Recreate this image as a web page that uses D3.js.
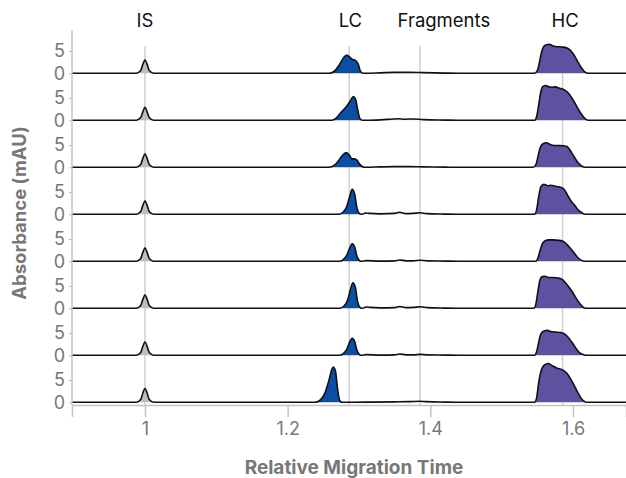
<!DOCTYPE html>
<html>
<head>
<meta charset="utf-8">
<script src="https://cdn.jsdelivr.net/npm/d3@7"></script>
<style>
  body { margin: 0; background: #fff; }
  svg { display: block; font-family: Inter, "Noto Sans", sans-serif; }
</style>
</head>
<body>
<svg id="chart" width="626" height="478"></svg>
<script>
// Peak names and where their guide lines sit (relative migration time)
const peakLabels = ['IS', 'LC', 'Fragments', 'HC'];
const labelPos = [1.0, 1.288, 1.419, 1.589];
const refLines = [1.0, 1.2864, 1.3854, 1.5854];
const xTicks = [1, 1.2, 1.4, 1.6];
const yTicks = [0, 5];
const xDomain = [0.8977, 1.6743];

// Traces, one entry per run (top to bottom), points are [time, mAU]
const isTrace = [
  [[0.988,0],[0.994,0.6],[0.997,2.0],[1.0,3.0],[1.003,2.0],[1.006,0.6],[1.012,0]],
  [[0.988,0],[0.994,0.6],[0.997,1.9],[1.0,2.9],[1.003,1.9],[1.006,0.6],[1.012,0]],
  [[0.988,0],[0.994,0.6],[0.997,2.0],[1.0,3.0],[1.003,2.0],[1.006,0.6],[1.012,0]],
  [[0.988,0],[0.994,0.6],[0.997,2.0],[1.0,3.0],[1.003,2.0],[1.006,0.6],[1.012,0]],
  [[0.988,0],[0.994,0.6],[0.997,2.0],[1.0,3.0],[1.003,2.0],[1.006,0.6],[1.012,0]],
  [[0.988,0],[0.994,0.6],[0.997,2.0],[1.0,3.0],[1.003,2.0],[1.006,0.6],[1.012,0]],
  [[0.988,0],[0.994,0.6],[0.997,2.0],[1.0,3.0],[1.003,2.0],[1.006,0.6],[1.012,0]],
  [[0.988,0],[0.994,0.6],[0.997,2.1],[1.0,3.1],[1.003,2.1],[1.006,0.6],[1.012,0]]
];

const lcTrace = [
  [[1.258,0],[1.265,0.4],[1.272,1.8],[1.279,3.6],[1.283,4.1],[1.287,3.6],[1.291,3.1],[1.295,2.9],[1.299,2.0],[1.302,0.5],[1.306,0]],
  [[1.262,0],[1.268,0.5],[1.275,1.8],[1.283,3.2],[1.288,4.4],[1.292,5.3],[1.295,4.8],[1.298,2.5],[1.301,0.5],[1.305,0]],
  [[1.257,0],[1.264,0.3],[1.270,1.2],[1.276,2.5],[1.2825,3.3],[1.287,2.6],[1.290,1.9],[1.294,1.9],[1.297,1.6],[1.301,0.7],[1.305,0.1],[1.308,0]],
  [[1.272,0],[1.278,0.5],[1.283,1.8],[1.287,4.0],[1.2905,5.6],[1.294,4.5],[1.297,1.5],[1.300,0.3],[1.303,0]],
  [[1.272,0],[1.278,0.4],[1.283,1.4],[1.287,3.0],[1.2905,3.9],[1.294,3.2],[1.297,1.2],[1.300,0.3],[1.303,0]],
  [[1.273,0],[1.279,0.5],[1.284,1.8],[1.288,4.2],[1.2915,5.7],[1.295,4.6],[1.298,1.5],[1.301,0.3],[1.304,0]],
  [[1.272,0],[1.278,0.4],[1.283,1.4],[1.287,3.0],[1.2905,3.8],[1.294,3.1],[1.297,1.2],[1.300,0.3],[1.303,0]],
  [[1.238,0],[1.245,0.4],[1.252,2.0],[1.258,5.0],[1.262,7.4],[1.264,7.9],[1.267,7.0],[1.270,3.0],[1.273,0.4],[1.276,0]]
];

const fragTrace = [
  [[1.310,0],[1.330,0.1],[1.350,0.2],[1.370,0.2],[1.390,0.15],[1.420,0.05],[1.440,0]],
  [[1.310,0],[1.330,0.1],[1.345,0.25],[1.355,0.35],[1.365,0.25],[1.375,0.3],[1.390,0.15],[1.420,0.05],[1.440,0]],
  [[1.310,0],[1.330,0.1],[1.350,0.15],[1.370,0.15],[1.390,0.1],[1.420,0.05],[1.440,0]],
  [[1.304,0],[1.309,0.3],[1.315,0.2],[1.330,0.1],[1.350,0.2],[1.357,0.45],[1.366,0.15],[1.375,0.2],[1.385,0.35],[1.395,0.15],[1.420,0.05],[1.440,0]],
  [[1.304,0],[1.310,0.15],[1.330,0.05],[1.350,0.1],[1.357,0.3],[1.366,0.1],[1.376,0.1],[1.386,0.25],[1.396,0.1],[1.420,0.05],[1.440,0]],
  [[1.305,0],[1.310,0.3],[1.316,0.2],[1.330,0.1],[1.350,0.15],[1.357,0.4],[1.366,0.15],[1.376,0.2],[1.386,0.35],[1.396,0.15],[1.420,0.05],[1.440,0]],
  [[1.304,0],[1.310,0.15],[1.330,0.05],[1.350,0.1],[1.357,0.3],[1.366,0.1],[1.376,0.1],[1.386,0.2],[1.396,0.1],[1.420,0.05],[1.440,0]],
  [[1.290,0],[1.320,0.05],[1.350,0.1],[1.370,0.15],[1.385,0.25],[1.395,0.15],[1.420,0.05],[1.440,0]]
];

const hcTrace = [
  [[1.546,0],[1.550,0.6],[1.553,2.5],[1.556,4.8],[1.559,6.0],[1.563,6.4],[1.567,6.5],[1.571,6.2],[1.576,6.0],[1.584,5.9],[1.591,5.7],[1.596,5.2],[1.601,4.2],[1.606,2.8],[1.611,1.4],[1.616,0.4],[1.622,0]],
  [[1.546,0],[1.549,0.8],[1.552,3.5],[1.555,6.5],[1.558,7.6],[1.562,7.8],[1.566,7.5],[1.570,7.4],[1.575,7.5],[1.581,7.2],[1.588,6.8],[1.594,6.0],[1.600,4.6],[1.605,3.2],[1.610,1.8],[1.615,0.7],[1.621,0]],
  [[1.544,0],[1.548,0.6],[1.551,2.5],[1.554,4.4],[1.558,5.3],[1.563,5.5],[1.568,5.1],[1.574,4.9],[1.580,4.9],[1.587,4.8],[1.592,4.6],[1.598,3.3],[1.603,2.0],[1.607,1.0],[1.612,0.3],[1.617,0]],
  [[1.546,0],[1.549,1.0],[1.552,4.0],[1.555,6.2],[1.559,6.7],[1.565,6.4],[1.569,6.5],[1.575,6.3],[1.581,6.1],[1.586,5.8],[1.590,5.0],[1.593,4.1],[1.598,2.8],[1.603,1.9],[1.607,1.0],[1.612,0.4],[1.617,0]],
  [[1.548,0],[1.551,0.8],[1.554,2.5],[1.557,3.9],[1.561,4.6],[1.566,4.8],[1.572,4.8],[1.580,4.7],[1.587,4.4],[1.592,3.7],[1.598,2.6],[1.603,1.6],[1.607,0.8],[1.612,0.2],[1.616,0]],
  [[1.545,0],[1.548,1.0],[1.551,4.0],[1.554,6.5],[1.557,7.1],[1.561,7.2],[1.566,6.9],[1.572,6.9],[1.580,6.8],[1.586,6.3],[1.590,5.6],[1.595,4.6],[1.599,3.7],[1.603,2.6],[1.607,1.6],[1.612,0.6],[1.617,0]],
  [[1.546,0],[1.549,0.8],[1.552,3.0],[1.555,4.8],[1.559,5.4],[1.564,5.6],[1.569,5.3],[1.576,5.2],[1.583,5.1],[1.589,4.7],[1.594,3.9],[1.599,2.8],[1.604,1.6],[1.609,0.6],[1.614,0.2],[1.619,0]],
  [[1.546,0],[1.549,1.0],[1.552,4.5],[1.556,7.4],[1.560,8.4],[1.565,8.7],[1.571,8.2],[1.577,7.7],[1.586,7.2],[1.593,6.2],[1.600,4.3],[1.607,2.1],[1.611,1.0],[1.615,0.3],[1.619,0]]
];

const regions = [
  { data: isTrace, fill: '#bdbdbd' },
  { data: lcTrace, fill: '#0b4ea2' },
  { data: fragTrace, fill: '#c5e8bd' },
  { data: hcTrace, fill: '#5f51a0' }
];

// Layout
const svg = d3.select('#chart');
const left = 72, right = 626, axisY = 405;
const nRuns = isTrace.length;

const x = d3.scaleLinear().domain(xDomain).range([left, right]);
const row = d3.scalePoint().domain(d3.range(nRuns)).range([73.3, 402.3]);
const yLocal = d3.scaleLinear().domain([0, 5]).range([0, -22.3]);

const curve = d3.curveMonotoneX;

// Reference lines
svg.append('g')
  .selectAll('line')
  .data(refLines)
  .join('line')
  .attr('x1', d => x(d))
  .attr('x2', d => x(d))
  .attr('y1', 46)
  .attr('y2', axisY)
  .attr('stroke', '#cfcfcf')
  .attr('stroke-width', 1.5);

// Peak labels on top
svg.append('g')
  .selectAll('text')
  .data(peakLabels)
  .join('text')
  .attr('x', (d, i) => x(labelPos[i]))
  .attr('y', 27)
  .attr('text-anchor', 'middle')
  .attr('font-size', 18.5)
  .attr('fill', '#111')
  .text(d => d);

// Traces
for (let r = 0; r < nRuns; r++) {
  const g = svg.append('g').attr('transform', `translate(0,${row(r)})`);

  const area = d3.area()
    .x(d => x(d[0]))
    .y0(0)
    .y1(d => yLocal(d[1]))
    .curve(curve);

  regions.forEach(reg => {
    g.append('path')
      .datum(reg.data[r])
      .attr('d', area)
      .attr('fill', reg.fill);
  });

  const full = [[xDomain[0], 0]]
    .concat(isTrace[r], lcTrace[r], fragTrace[r], hcTrace[r])
    .concat([[xDomain[1], 0]])
    .sort((a, b) => a[0] - b[0]);

  const line = d3.line()
    .x(d => x(d[0]))
    .y(d => yLocal(d[1]))
    .curve(curve);

  g.append('path')
    .datum(full)
    .attr('d', line)
    .attr('fill', 'none')
    .attr('stroke', '#111')
    .attr('stroke-width', 1.6)
    .attr('stroke-linejoin', 'round');

  // little y axis for this run
  const ax = g.append('g')
    .attr('transform', `translate(${left},0)`)
    .call(d3.axisLeft(yLocal).tickValues(yTicks).tickFormat(d3.format('d')).tickSize(3).tickPadding(4));
  ax.select('.domain').remove();
  ax.selectAll('line').attr('stroke', '#bbb');
  ax.selectAll('text')
    .attr('font-size', 18)
    .attr('font-family', 'Inter, sans-serif')
    .attr('fill', '#777');
}

// Axis lines
svg.append('line')
  .attr('x1', left).attr('x2', left)
  .attr('y1', 30).attr('y2', axisY)
  .attr('stroke', '#c4c4c4').attr('stroke-width', 1.5);

const xAxis = svg.append('g')
  .attr('transform', `translate(0,${axisY})`)
  .call(d3.axisBottom(x).tickValues(xTicks).tickFormat(d3.format('')).tickSize(12).tickPadding(5));
xAxis.select('.domain').attr('stroke', '#c4c4c4').attr('stroke-width', 1.5);
xAxis.selectAll('line').attr('stroke', '#c4c4c4').attr('stroke-width', 1.5);
xAxis.selectAll('text')
  .attr('font-size', 18)
  .attr('font-family', 'Inter, sans-serif')
  .attr('fill', '#777');

// Titles
svg.append('text')
  .attr('x', 354)
  .attr('y', 474)
  .attr('text-anchor', 'middle')
  .attr('font-size', 19)
  .attr('font-weight', 'bold')
  .attr('fill', '#777')
  .text('Relative Migration Time');

svg.append('text')
  .attr('transform', 'translate(26,213) rotate(-90)')
  .attr('text-anchor', 'middle')
  .attr('font-size', 18.5)
  .attr('font-weight', 'bold')
  .attr('fill', '#777')
  .text('Absorbance (mAU)');
</script>
</body>
</html>
